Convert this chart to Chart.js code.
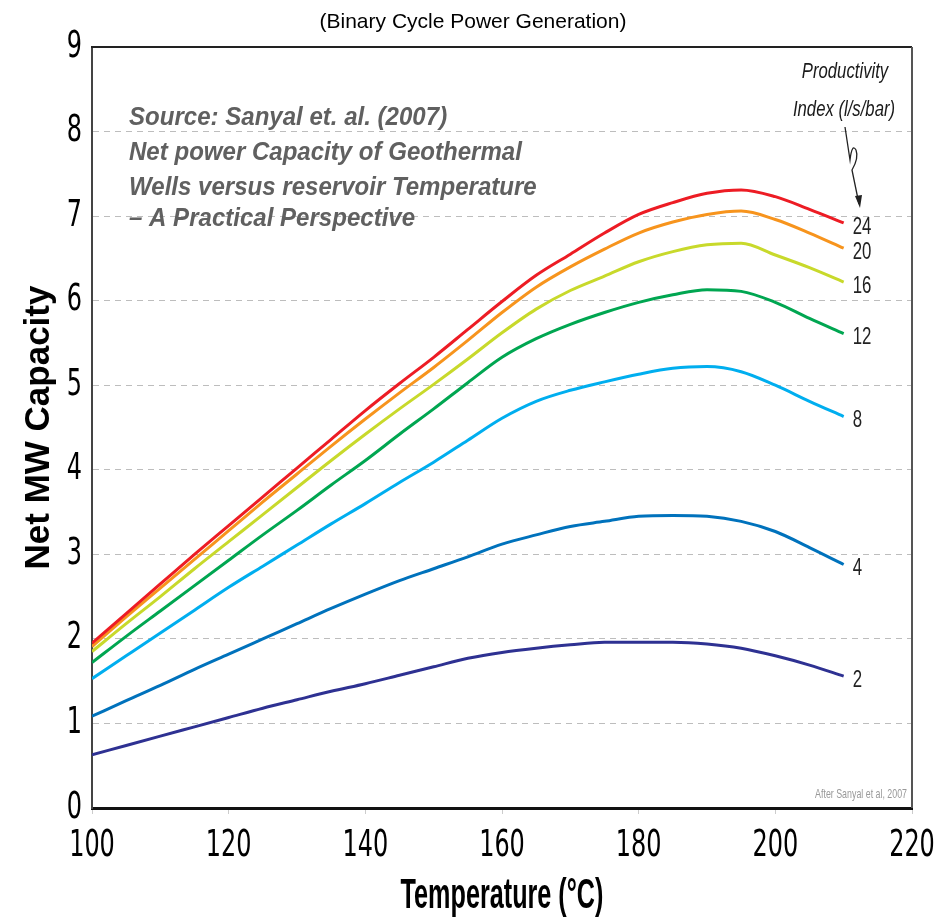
<!DOCTYPE html>
<html><head><meta charset="utf-8">
<script src="https://cdn.jsdelivr.net/npm/chart.js@4/dist/chart.umd.min.js"></script>
<style>html,body{margin:0;padding:0;background:#fff}#wrap{width:946px;height:923px}</style>
</head><body><div id="wrap"><canvas id="c" width="946" height="923"></canvas></div>
<script>
const temperatures = [100,105,110,115,120,125,130,135,140,145,150,155,160,165,170,175,180,185,190,195,200,205,210];
const pi24 = [1.95,2.30,2.65,3.00,3.34,3.68,4.02,4.36,4.70,5.02,5.33,5.66,5.99,6.30,6.55,6.80,7.02,7.16,7.27,7.31,7.23,7.08,6.92];
const pi20 = [1.91,2.26,2.60,2.94,3.28,3.62,3.95,4.28,4.60,4.91,5.21,5.53,5.86,6.16,6.40,6.61,6.80,6.93,7.02,7.06,6.96,6.80,6.62];
const pi16 = [1.85,2.18,2.50,2.83,3.15,3.47,3.79,4.11,4.42,4.72,5.01,5.31,5.62,5.90,6.12,6.29,6.46,6.58,6.66,6.68,6.54,6.39,6.22];
const pi12 = [1.72,2.03,2.33,2.63,2.93,3.23,3.52,3.82,4.11,4.42,4.72,5.03,5.33,5.55,5.72,5.86,5.98,6.07,6.13,6.11,5.98,5.79,5.61];
const pi8  = [1.53,1.80,2.07,2.34,2.61,2.86,3.11,3.36,3.60,3.85,4.09,4.35,4.61,4.81,4.94,5.04,5.13,5.20,5.22,5.16,5.00,4.81,4.63];
const pi4  = [1.085,1.27,1.45,1.64,1.82,2.00,2.18,2.36,2.53,2.69,2.83,2.97,3.12,3.23,3.33,3.39,3.45,3.46,3.45,3.39,3.27,3.08,2.88];
const pi2  = [0.63,0.74,0.85,0.96,1.07,1.18,1.28,1.38,1.47,1.57,1.67,1.77,1.84,1.89,1.93,1.96,1.96,1.96,1.94,1.89,1.80,1.69,1.56];
const seriesLabels = ['24','20','16','12','8','4','2'];
const seriesValues = [pi24,pi20,pi16,pi12,pi8,pi4,pi2];
const seriesColors = ['#ed1c24','#f7941d','#c8d92b','#00a651','#00aeef','#0072bc','#2e3192'];
const xTicks = [100,120,140,160,180,200,220];
const yTicks = [0,1,2,3,4,5,6,7,8,9];
const titleText = '(Binary Cycle Power Generation)';
const noteLines = ['Source: Sanyal et. al. (2007)','Net power Capacity of Geothermal','Wells versus reservoir Temperature','– A Practical Perspective'];

const SANS = '"Liberation Sans", Arial, sans-serif';
const COND = '"DejaVu Sans Condensed", "DejaVu Sans", sans-serif';

const protoFill = CanvasRenderingContext2D.prototype.fillText;
function squeezed(ctx, k, fn){
  ctx.fillText = function(t,x,y,mw){
    this.save(); this.translate(x,y); this.scale(k,1);
    if (mw !== undefined) protoFill.call(this,t,0,0,mw/k); else protoFill.call(this,t,0,0);
    this.restore();
  };
  try { fn(); } finally { delete ctx.fillText; }
}
function sqText(ctx, t, x, y, k){ ctx.save(); ctx.translate(x,y); ctx.scale(k,1); ctx.fillText(t,0,0); ctx.restore(); }

const datasets = seriesValues.map((vals,i)=>({
  label: seriesLabels[i],
  data: temperatures.map((t,j)=>({x:t,y:vals[j]})),
  borderColor: seriesColors[i],
  borderWidth: 3,
  pointRadius: 0,
  fill: false,
  cubicInterpolationMode: 'monotone'
}));

const narrowAxes = {
  id:'narrowAxes',
  afterLayout(chart){
    const sx = chart.scales.x, sy = chart.scales.y;
    [[sx,0.72],[sy,0.72]].forEach(([s,k])=>{
      if (s.__sq) return; s.__sq = true;
      const dl = s.drawLabels;
      s.drawLabels = function(a){ squeezed(this.ctx, k, ()=>dl.call(this,a)); };
    });
    if (!sx.__sqt){ sx.__sqt = true; const dt = sx.drawTitle;
      sx.drawTitle = function(a){ squeezed(this.ctx, 0.6, ()=>dt.call(this,a)); }; }
  }
};

const decor = {
  id:'decor',
  afterDraw(chart){
    const ctx = chart.ctx, a = chart.chartArea;
    ctx.save();
    ctx.strokeStyle = '#222'; ctx.lineWidth = 2;
    ctx.beginPath(); ctx.moveTo(a.left-1, a.top); ctx.lineTo(a.right, a.top); ctx.stroke();
    ctx.strokeStyle = '#555'; ctx.lineWidth = 2;
    ctx.beginPath(); ctx.moveTo(a.right, a.top); ctx.lineTo(a.right, a.bottom); ctx.stroke();
    // title
    ctx.fillStyle = '#000'; ctx.font = '21px ' + SANS; ctx.textAlign = 'center'; ctx.textBaseline = 'alphabetic';
    ctx.fillText(titleText, 473, 28);
    // note
    ctx.fillStyle = '#606060'; ctx.font = 'italic bold 26px ' + SANS; ctx.textAlign = 'left';
    const bl = [125,160,195,226];
    noteLines.forEach((t,i)=>sqText(ctx, t, 129, bl[i], 0.925));
    // productivity header
    ctx.fillStyle = '#1a1a1a'; ctx.font = 'italic 22px ' + SANS; ctx.textAlign = 'center';
    sqText(ctx, 'Productivity', 845, 78, 0.76);
    sqText(ctx, 'Index (l/s/bar)', 844, 116, 0.76);
    // arrow
    ctx.strokeStyle = '#222'; ctx.lineWidth = 1.3;
    ctx.beginPath();
    ctx.moveTo(845,127); ctx.lineTo(850,160);
    ctx.quadraticCurveTo(852,143,856,150);
    ctx.quadraticCurveTo(859,158,852,170);
    ctx.lineTo(859,204);
    ctx.stroke();
    ctx.fillStyle = '#222';
    ctx.beginPath(); ctx.moveTo(860,208); ctx.lineTo(855,196); ctx.lineTo(862,195); ctx.closePath(); ctx.fill();
    // series labels
    ctx.font = '24px ' + SANS; ctx.textAlign = 'left'; ctx.textBaseline = 'middle'; ctx.fillStyle = '#222';
    chart.data.datasets.forEach((ds,i)=>{
      const meta = chart.getDatasetMeta(i);
      const p = meta.data[meta.data.length-1];
      sqText(ctx, ds.label, p.x + 9, p.y + 4, 0.7);
    });
    // credit
    ctx.fillStyle = '#999'; ctx.font = '13px ' + SANS; ctx.textAlign = 'right'; ctx.textBaseline = 'alphabetic';
    sqText(ctx, 'After Sanyal et al, 2007', a.right - 5, 798, 0.68);
    ctx.restore();
  }
};

new Chart(document.getElementById('c'), {
  type:'line',
  data:{datasets},
  options:{
    responsive:false, animation:false,
    layout:{padding:{top:47,right:34,left:0,bottom:0}},
    plugins:{legend:{display:false}, tooltip:{enabled:false}, title:{display:false}},
    scales:{
      x:{type:'linear', min:100, max:220,
        afterBuildTicks(s){ s.ticks = xTicks.map(v=>({value:v})); },
        ticks:{font:{family:COND,size:37}, color:'#000', padding:10},
        grid:{drawOnChartArea:false, drawTicks:true, tickLength:6, color:'#cccccc'},
        border:{display:true, color:'#111', width:3},
        title:{display:true, text:'Temperature (°C)', color:'#000', font:{family:SANS, size:42, weight:'bold'}, padding:{top:0,bottom:1}},
        afterFit(s){ s.height = 115; s.paddingLeft = 0; s.paddingRight = 0; }
      },
      y:{type:'linear', min:0, max:9,
        afterBuildTicks(s){ s.ticks = yTicks.map(v=>({value:v})); },
        ticks:{font:{family:COND,size:37}, color:'#000', padding:10},
        grid:{color:'#bdbdbd', lineWidth:1, drawTicks:false},
        border:{display:true, color:'#444', width:2, dash:[6,5]},
        title:{display:true, text:'Net MW Capacity', color:'#000', font:{family:SANS, size:35, weight:'bold'}, padding:{top:18,bottom:0}},
        afterFit(s){ s.width = 92; s.paddingTop = 0; s.paddingBottom = 0; }
      }
    }
  },
  plugins:[narrowAxes, decor]
});
</script></body></html>
